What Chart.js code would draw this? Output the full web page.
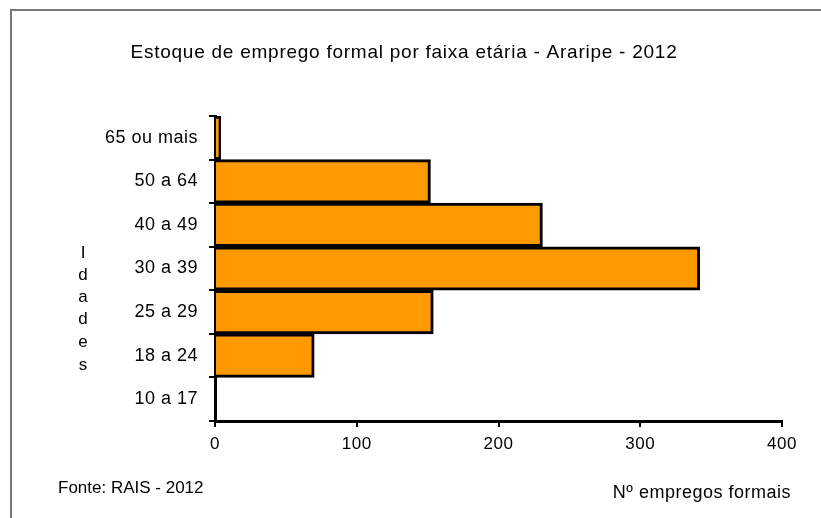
<!DOCTYPE html>
<html>
<head>
<meta charset="utf-8">
<script src="https://cdn.jsdelivr.net/npm/chart.js@4/dist/chart.umd.min.js"></script>
<style>
html,body{margin:0;padding:0;background:#fff;}
canvas{display:block;}
</style>
</head>
<body>
<canvas id="c" width="821" height="518"></canvas>
<script>
const categories = ["65 ou mais","50 a 64","40 a 49","30 a 39","25 a 29","18 a 24","10 a 17"];
const values = [4, 152, 231, 342, 154, 70, 0];
const xTicks = [0, 100, 200, 300, 400];
const titleText = "Estoque de emprego formal por faixa etária - Araripe - 2012";
const yTitle = "Idades";
const xTitle = "Nº empregos formais";
const sourceText = "Fonte: RAIS - 2012";

const FONT = "'Liberation Sans', Arial, sans-serif";

const decor = {
  id: 'decor',
  beforeDraw(chart) {
    const ctx = chart.ctx;
    ctx.save();
    ctx.fillStyle = '#fff';
    ctx.fillRect(0, 0, chart.width, chart.height);
    ctx.strokeStyle = '#777';
    ctx.lineWidth = 2;
    ctx.beginPath();
    ctx.moveTo(11, chart.height);
    ctx.lineTo(11, 10);
    ctx.lineTo(chart.width, 10);
    ctx.stroke();
    ctx.restore();
    ctx.letterSpacing = '0.5px';
  },
  afterDraw(chart) {
    const ctx = chart.ctx;
    ctx.save();
    ctx.fillStyle = '#000';
    ctx.textBaseline = 'alphabetic';
    ctx.font = "19px " + FONT;
    ctx.letterSpacing = '0.75px';
    ctx.textAlign = 'center';
    ctx.fillText(titleText, 404, 58);
    ctx.letterSpacing = '0px';
    ctx.textBaseline = 'middle';
    ctx.font = "17px " + FONT;
    ctx.textAlign = 'center';
    const ys = [253, 275, 297, 319, 342, 365];
    yTitle.split('').forEach((ch, i) => ctx.fillText(ch, 83, ys[i]));
    ctx.textBaseline = 'alphabetic';
    ctx.textAlign = 'left';
    ctx.font = "17px " + FONT;
    ctx.fillText(sourceText, 58, 493);
    ctx.font = "18px " + FONT;
    ctx.letterSpacing = '0.5px';
    ctx.textAlign = 'right';
    ctx.fillText(xTitle, 791, 498);
    ctx.restore();
  }
};

new Chart(document.getElementById('c'), {
  type: 'bar',
  data: {
    labels: categories,
    datasets: [{
      data: values,
      backgroundColor: '#FF9900',
      borderColor: '#000',
      borderWidth: 3,
      barPercentage: 1,
      categoryPercentage: 1,
      borderSkipped: 'start'
    }]
  },
  options: {
    indexAxis: 'y',
    responsive: false,
    animation: false,
    devicePixelRatio: 1,
    layout: { padding: { left: 20, right: 39, top: 116, bottom: 20 } },
    plugins: { legend: { display: false }, tooltip: { enabled: false }, title: { display: false } },
    scales: {
      x: {
        min: 0, max: 400,
        afterBuildTicks(scale) { scale.ticks = xTicks.map(v => ({ value: v })); },
        afterFit(scale) { scale.height = 518 - 421 - 20; },
        border: { display: true, color: '#000', width: 3 },
        grid: { drawOnChartArea: false, drawTicks: true, tickLength: 6, color: '#000', lineWidth: 2 },
        ticks: { color: '#000', font: { family: FONT, size: 17 }, padding: 7, maxRotation: 0 }
      },
      y: {
        afterFit(scale) { scale.width = 215 - 20; },
        border: { display: true, color: '#000', width: 3 },
        grid: { offset: true, drawOnChartArea: false, drawTicks: true, tickLength: 6, color: '#000', lineWidth: 2 },
        ticks: { color: '#000', font: { family: FONT, size: 18 }, padding: 11 }
      }
    }
  },
  plugins: [decor]
});
</script>
</body>
</html>
